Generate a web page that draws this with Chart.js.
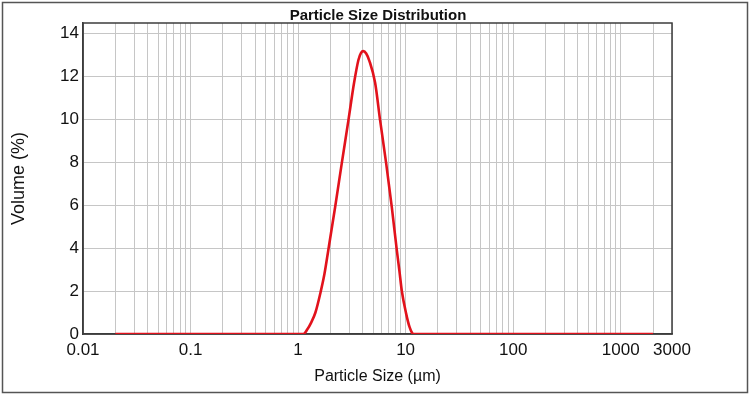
<!DOCTYPE html>
<html>
<head>
<meta charset="utf-8">
<title>Particle Size Distribution</title>
<script src="https://cdn.jsdelivr.net/npm/chart.js@4.4.1/dist/chart.umd.min.js"></script>
<style>
  html, body { margin: 0; padding: 0; background: #fff; }
  #wrap { width: 750px; height: 395px; }
</style>
</head>
<body>
<div id="wrap"><canvas id="psd"></canvas></div>
<script>
// particle size (µm) and volume (%)
const sizes   = [0.02, 1.0, 1.12, 1.22, 1.32, 1.45, 1.62, 1.76, 1.91, 2.21, 2.55, 2.94, 3.32, 3.64, 3.85,
                 4.05, 4.3, 4.61, 5.2, 5.79, 6.59, 7.44, 8.28, 8.75, 9.22, 10.1, 10.85, 11.5, 11.82, 2000];
const volumes = [0, 0, 0, 0.22, 0.52, 1.0, 1.95, 2.8, 3.9, 5.9, 7.95, 9.95, 11.7, 12.75, 13.08,
                 13.16, 13.05, 12.7, 11.7, 9.95, 7.95, 5.9, 3.9, 2.95, 2.0, 0.96, 0.34, 0.05, 0, 0];

// axis labels
const xTickLabels = ['0.01', '0.1', '1', '10', '100', '1000', '3000'];
const yTickValues = [0, 2, 4, 6, 8, 10, 12, 14];
const xMin = 0.01, xMax = 3000;
const yMax = 14.47;

const FONT = "'Liberation Sans', Arial, sans-serif";

// log grid: 1..9 in every decade up to 3000
const gridValues = [];
for (let d = 0.01; d <= 1000; d *= 10) {
    for (let m = 1; m <= 9; m++) {
        const v = Number((m * d).toPrecision(6));
        if (v <= xMax) gridValues.push(v);
    }
}

// plot frame + outer border, drawn under the curve
const framePlugin = {
    id: 'frame',
    beforeDatasetsDraw(chart) {
        const { ctx, chartArea: a } = chart;
        ctx.save();
        ctx.strokeStyle = '#3c3c3c';
        ctx.lineWidth = 1.5;
        ctx.strokeRect(a.left, a.top, a.right - a.left, a.bottom - a.top);
        ctx.strokeStyle = '#555';
        ctx.strokeRect(2.5, 2.5, chart.width - 5, chart.height - 5);
        ctx.restore();
    }
};

new Chart(document.getElementById('psd'), {
    type: 'line',
    data: {
        datasets: [{
            data: sizes.map((s, i) => ({ x: s, y: volumes[i] })),
            borderColor: '#e2121c',
            borderWidth: 2.6,
            pointRadius: 0,
            fill: false,
            cubicInterpolationMode: 'monotone'
        }]
    },
    options: {
        responsive: true,
        maintainAspectRatio: false,
        animation: false,
        layout: { padding: { left: 10, right: 4, top: 0, bottom: 8 } },
        plugins: {
            legend: { display: false },
            tooltip: { enabled: false },
            title: {
                display: true,
                text: 'Particle Size Distribution',
                color: '#111',
                font: { family: FONT, size: 15, weight: 'bold', lineHeight: 1 },
                padding: { top: 8, bottom: 0 }
            }
        },
        scales: {
            x: {
                type: 'logarithmic',
                min: xMin,
                max: xMax,
                afterBuildTicks: (scale) => {
                    scale.ticks = gridValues.map(v => ({ value: v }));
                },
                afterFit: (scale) => { scale.height = 53; },
                ticks: {
                    autoSkip: false,
                    maxRotation: 0,
                    padding: 6,
                    color: '#111',
                    font: { family: FONT, size: 17 },
                    callback: (value) => {
                        const lbl = xTickLabels.find(t => Math.abs(Number(t) - value) < value * 1e-6);
                        return lbl || '';
                    }
                },
                grid: { color: '#c6c6c6', lineWidth: 1, drawTicks: false },
                border: { color: '#3c3c3c', width: 1.5 },
                title: {
                    display: true,
                    text: 'Particle Size (µm)',
                    color: '#111',
                    font: { family: FONT, size: 16, lineHeight: 1.1 },
                    padding: { top: 0, bottom: 2 }
                }
            },
            y: {
                min: 0,
                max: yMax,
                afterBuildTicks: (scale) => {
                    scale.ticks = yTickValues.map(v => ({ value: v }));
                },
                afterFit: (scale) => { scale.width = 73; },
                ticks: {
                    padding: 4,
                    color: '#111',
                    font: { family: FONT, size: 17 }
                },
                grid: { color: '#c6c6c6', lineWidth: 1, drawTicks: false },
                border: { color: '#3c3c3c', width: 1.5 },
                title: {
                    display: true,
                    text: 'Volume (%)',
                    color: '#111',
                    font: { family: FONT, size: 18, lineHeight: 1 },
                    padding: { top: 0, bottom: 0 }
                }
            },
            // empty right axis, only reserves the blank margin right of the plot
            yRight: {
                position: 'right',
                min: 0,
                max: yMax,
                afterFit: (scale) => { scale.width = 74; },
                ticks: { display: false },
                grid: { display: false, drawTicks: false },
                border: { display: false }
            }
        }
    },
    plugins: [framePlugin]
});
</script>
</body>
</html>
